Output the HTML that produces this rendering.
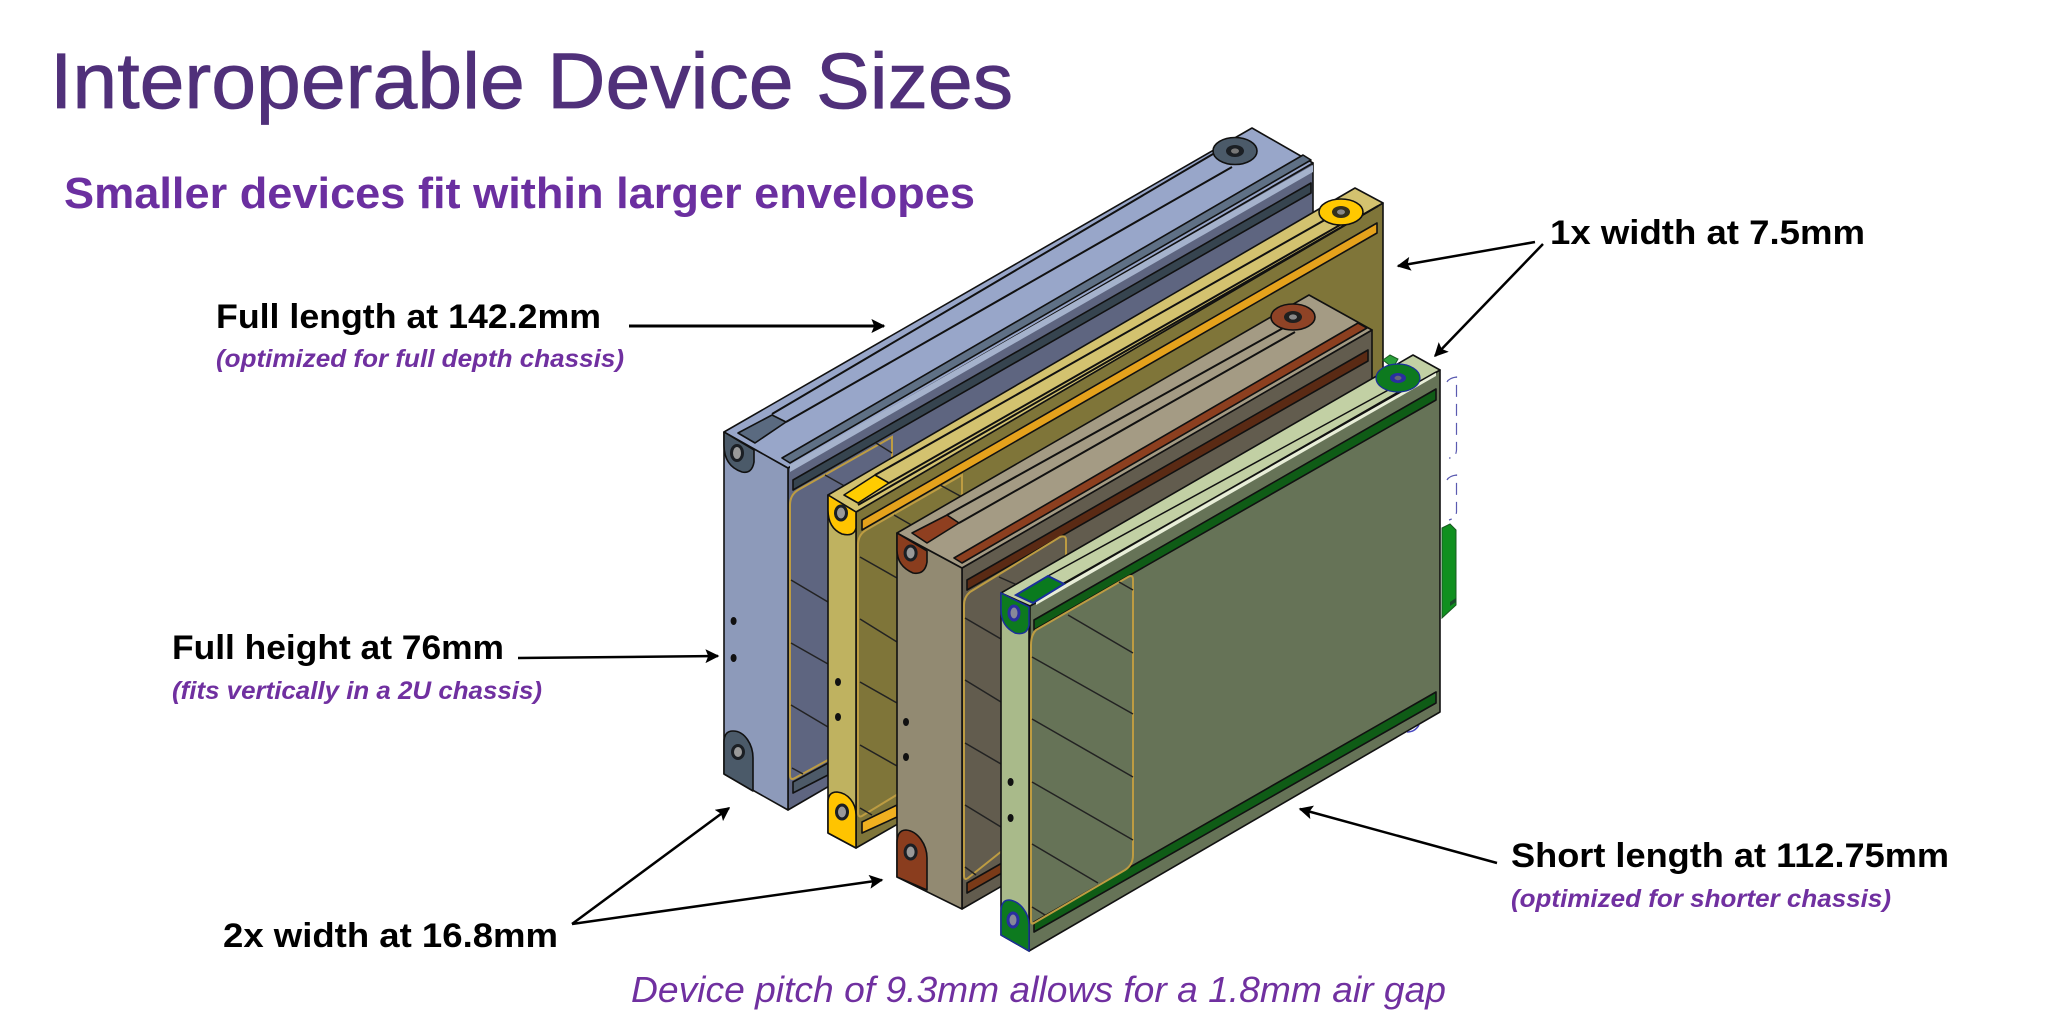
<!DOCTYPE html>
<html lang="en">
<head>
<meta charset="utf-8">
<title>Interoperable Device Sizes</title>
<style>
html,body{margin:0;padding:0;background:#fff;width:2048px;height:1024px;overflow:hidden}
svg{display:block}
text{font-family:"Liberation Sans",sans-serif}
.lab{font-weight:700;font-size:34px;fill:#000}
.sub{font-weight:700;font-style:italic;font-size:25px;fill:#7030a0}
.e{stroke:#111;stroke-width:1.6;stroke-linejoin:round}
.t{stroke:#111;stroke-width:2;fill:none}
.d{stroke:#222;stroke-width:1.5;fill:none}
.o{stroke:#bd9c42;stroke-width:2;fill:none}
</style>
</head>
<body>
<svg width="2048" height="1024" viewBox="0 0 2048 1024" xmlns="http://www.w3.org/2000/svg">
<defs>
<marker id="b" viewBox="0 0 10 10" refX="9" refY="5" markerWidth="14" markerHeight="14" orient="auto" markerUnits="userSpaceOnUse"><path d="M0,0L10,5L0,10L2,5z" fill="#000"/></marker>
</defs>
<rect width="2048" height="1024" fill="#fff"/>

<!-- BLUE DEVICE -->
<polygon class="e" points="788,468 1313,163 1313,505 788,810" fill="#5e6580"/>
<polygon class="e" points="793,480 1311,183 1311,193 793,490" fill="#36444f"/>
<path class="o" d="M790,505Q790,495 798,490L892,437V725L795,778Q790,781 790,775Z"/>
<path class="d" d="M791,580L828,602M791,643L828,664M791,705L828,727M792,768L803,774M825,475L848,488M876,443L892,453"/>
<polygon class="e" points="793,782 828,763 828,775 793,793" fill="#4d5a68"/>
<polygon class="e" points="724,432 788,468 788,810 724,774" fill="#8d9aba"/>
<polygon class="e" points="724,432 1252,128 1313,163 788,468" fill="#98a6c9"/>
<polygon points="790,465 1313,165 1313,172 790,472" fill="#a5b2cc"/>
<polygon class="e" points="782,458 790,463 1311,160 1303,155" fill="#5f7085"/>
<path class="t" d="M772,414L1213,154M786,422L1232,167"/>
<polygon class="e" points="738,433 772,415 786,422 755,443" fill="#5a6a80"/>
<ellipse class="e" cx="1235" cy="151" rx="22" ry="13.5" fill="#4b5a69"/>
<ellipse cx="1235" cy="151" rx="9" ry="6" fill="#1b1f24"/>
<ellipse cx="1235" cy="151" rx="4" ry="2.6" fill="#777"/>
<path class="e" d="M724,432L754,450V462Q752,474 742,472Q724,466 724,445Z" fill="#4b5a69"/>
<ellipse cx="737" cy="453" rx="7" ry="9" fill="#1b1f24"/><ellipse cx="737" cy="453" rx="4" ry="6" fill="#999"/>
<path class="e" d="M724,774V742Q724,731 733,731C745,731 753,745 753,758V791Z" fill="#4b5a69"/>
<ellipse cx="738" cy="752" rx="7" ry="8" fill="#1b1f24"/><ellipse cx="738" cy="752" rx="4" ry="5" fill="#999"/>
<ellipse cx="733.6" cy="621" rx="3" ry="4" fill="#111"/><ellipse cx="733.6" cy="658" rx="3" ry="4" fill="#111"/>

<!-- YELLOW DEVICE -->
<polygon class="e" points="856,512 1383,203 1383,545 856,848" fill="#7f7539"/>
<polygon class="e" points="862,520 1377,223 1377,233 862,530" fill="#e5a21c"/>
<path class="o" d="M858,545Q858,535 866,530L962,475V755L862,816Q858,818 858,812Z"/>
<path class="d" d="M860,557L897,578M860,619L897,642M860,682L897,703M860,745L897,766M860,808L872,815M894,515L920,530M940,485L962,497"/>
<polygon class="e" points="862,822 897,805 897,817 862,833" fill="#f0b020"/>
<polygon class="e" points="828,495 856,512 856,848 828,833" fill="#bfb260"/>
<polygon class="e" points="828,495 1355,188 1383,203 856,512" fill="#d3c26f"/>
<path class="t" d="M875,475L1330,217M889,483L1340,225M858,505L1378,206"/>
<polygon class="e" points="844,495 875,475 889,483 858,503" fill="#ffcc00"/>
<ellipse class="e" cx="1341" cy="212" rx="22" ry="13" fill="#ffc800"/>
<ellipse cx="1341" cy="212" rx="9" ry="6" fill="#33301c"/><ellipse cx="1341" cy="212" rx="4" ry="2.6" fill="#888"/>
<path class="e" d="M828,495L856,512V528Q854,537 842,534Q828,528 828,510Z" fill="#ffc400"/>
<ellipse cx="841" cy="513" rx="7" ry="8.5" fill="#1b1f24"/><ellipse cx="841" cy="513" rx="4" ry="5.5" fill="#999"/>
<path class="e" d="M828,833V802Q828,792 837,792C848,793 856,803 856,815V848Z" fill="#ffc400"/>
<ellipse cx="842" cy="812" rx="7" ry="8.5" fill="#1b1f24"/><ellipse cx="842" cy="812" rx="4" ry="5.5" fill="#999"/>
<ellipse cx="838" cy="682" rx="3" ry="4" fill="#111"/><ellipse cx="838" cy="717" rx="3" ry="4" fill="#111"/>

<!-- TAN DEVICE -->
<polygon class="e" points="962,568 1372,330 1372,673 962,909" fill="#625c4e"/>
<polygon class="e" points="967,580 1368,350 1368,361 967,590" fill="#5a2a14"/>
<path class="o" d="M964,605Q964,597 970,592L1060,537Q1066,535 1066,540V800L968,878Q964,881 964,875Z"/>
<path class="d" d="M965,618L1001,639M965,680L1001,702M965,743L1001,764M965,805L1001,827M965,867L976,875M999,577L1017,585"/>
<polygon class="e" points="967,883 1002,863 1002,873 967,893" fill="#7a3a18"/>
<polygon class="e" points="897,533 962,568 962,909 897,877" fill="#928a72"/>
<polygon class="e" points="897,533 1309,295 1372,330 962,568" fill="#a49b84"/>
<polygon class="e" points="954,558 962,563 1367,328 1358,323" fill="#8c3f1f"/>
<path class="t" d="M947,515L1285,327M959,523L1295,332"/>
<polygon class="e" points="912,533 947,515 959,523 927,543" fill="#8f3f20"/>
<ellipse class="e" cx="1293" cy="317" rx="22" ry="13" fill="#8f4326"/>
<ellipse cx="1293" cy="317" rx="9" ry="6" fill="#1f1f1f"/><ellipse cx="1293" cy="317" rx="4" ry="2.6" fill="#888"/>
<path class="e" d="M897,533L927,551V562Q925,575 913,573Q897,566 897,550Z" fill="#8a3d1e"/>
<ellipse cx="910.6" cy="553" rx="7" ry="8.5" fill="#1b1f24"/><ellipse cx="910.6" cy="553" rx="4" ry="5.5" fill="#999"/>
<path class="e" d="M897,877V843Q897,830 906,830C918,831 927,845 927,858V890Z" fill="#8a3d1e"/>
<ellipse cx="910.6" cy="852" rx="7" ry="8.5" fill="#1b1f24"/><ellipse cx="910.6" cy="852" rx="4" ry="5.5" fill="#999"/>
<ellipse cx="906" cy="722" rx="3" ry="4" fill="#111"/><ellipse cx="906" cy="757" rx="3" ry="4" fill="#111"/>

<!-- GREEN DEVICE -->
<polygon points="1383,360 1390,355 1398,359 1393,368" fill="#2aa03a" stroke="#185a20"/>
<polygon points="1442,528 1450,524 1456,530 1456,605 1442,618" fill="#10901f" stroke="#185a20"/>
<polygon points="1450,602 1456,598 1456,602 1450,606" fill="#1a4a2a"/>
<path d="M1407,732Q1415,732 1419,725" stroke="#4a4ac0" stroke-width="1.5" fill="none"/>
<polygon class="e" points="1030,606 1440,370 1440,712 1029,951" fill="#667357"/>
<polygon class="e" points="1034,620 1436,389 1436,400 1034,630" fill="#0f5c16"/>
<polygon class="e" points="1034,922 1436,692 1436,703 1034,932" fill="#0f5c16"/>
<path class="o" d="M1031,645Q1031,635 1036,630L1128,577Q1133,574 1133,580V855Q1133,865 1125,870L1034,923Q1031,925 1031,920Z"/>
<path class="d" d="M1032,657L1133,714M1032,719L1133,777M1032,782L1133,840M1032,844L1098,883M1032,907L1045,915M1068,615L1133,653M1119,582L1133,590"/>
<polygon class="e" points="1001,593 1029,606 1029,951 1001,935" fill="#a9ba8a"/>
<polygon class="e" points="1001,593 1413,355 1440,370 1030,606" fill="#c2d0a4"/>
<polygon points="1036,601 1436,372 1436,376 1036,605" fill="#e8eed8"/>
<path class="t" style="stroke-width:1.5" d="M1048,576L1392,388M1064,584L1402,390M1034,600L1436,372"/>
<polygon points="1016,595 1048,576 1064,584 1033,603" fill="#0a7a1e" stroke="#1a2f9a" stroke-width="2"/>
<ellipse cx="1398" cy="378" rx="22" ry="14" fill="#0d7a1f" stroke="#1a2f9a" stroke-width="1.2"/>
<ellipse cx="1398" cy="378" rx="8" ry="5" fill="#2a2ea0"/><ellipse cx="1398" cy="378" rx="3.5" ry="2.2" fill="#667"/>
<path d="M1001,593L1029,607V625Q1027,636 1015,633Q1001,626 1001,610Z" fill="#0d7a1f" stroke="#1a2f9a" stroke-width="1.5"/>
<ellipse cx="1014" cy="613" rx="6.5" ry="8.5" fill="#2a2ea0"/><ellipse cx="1014" cy="613" rx="3.5" ry="5.5" fill="#889"/>
<path d="M1001,935V912Q1001,900 1009,900C1020,901 1029,913 1029,925V951Z" fill="#0d7a1f" stroke="#1a2f9a" stroke-width="1.5"/>
<ellipse cx="1013" cy="920" rx="6.5" ry="8.5" fill="#2a2ea0"/><ellipse cx="1013" cy="920" rx="3.5" ry="5.5" fill="#889"/>
<ellipse cx="1010.6" cy="782" rx="3" ry="4" fill="#111"/><ellipse cx="1010.6" cy="818" rx="3" ry="4" fill="#111"/>
<path d="M1447,382Q1449,378 1456.5,377V450Q1456,458 1449,458M1447,480Q1449,476 1456.5,475V512Q1456,518 1449,520" fill="none" stroke="#5a5ab0" stroke-width="1.2" stroke-dasharray="12 7"/>

<!-- ARROWS -->
<g fill="none" stroke="#000">
<line x1="629" y1="326" x2="884" y2="326" stroke-width="3" marker-end="url(#b)"/>
<line x1="518" y1="658" x2="718" y2="656" stroke-width="2.5" marker-end="url(#b)"/>
<line x1="572" y1="924" x2="729" y2="808" stroke-width="2.5" marker-end="url(#b)"/>
<line x1="572" y1="924" x2="882" y2="880" stroke-width="2.5" marker-end="url(#b)"/>
<line x1="1535" y1="242" x2="1398" y2="266" stroke-width="2.5" marker-end="url(#b)"/>
<line x1="1543" y1="244" x2="1435" y2="356" stroke-width="2.5" marker-end="url(#b)"/>
<line x1="1497" y1="863" x2="1300" y2="809" stroke-width="2.5" marker-end="url(#b)"/>
</g>

<!-- TEXT -->
<text x="50" y="108" font-size="79" fill="#50307a" stroke="#50307a" stroke-width="0.8" textLength="963" lengthAdjust="spacingAndGlyphs">Interoperable Device Sizes</text>
<text x="64" y="208" font-size="44" font-weight="700" fill="#6b2fa0" textLength="911" lengthAdjust="spacingAndGlyphs">Smaller devices fit within larger envelopes</text>
<text class="lab" x="216" y="328" textLength="385" lengthAdjust="spacingAndGlyphs">Full length at 142.2mm</text>
<text class="sub" x="216" y="367" textLength="408" lengthAdjust="spacingAndGlyphs">(optimized for full depth chassis)</text>
<text class="lab" x="172" y="659" textLength="332" lengthAdjust="spacingAndGlyphs">Full height at 76mm</text>
<text class="sub" x="172" y="699" textLength="370" lengthAdjust="spacingAndGlyphs">(fits vertically in a 2U chassis)</text>
<text class="lab" x="223" y="947" textLength="335" lengthAdjust="spacingAndGlyphs">2x width at 16.8mm</text>
<text x="631" y="1002" font-size="36" font-style="italic" fill="#7030a0" textLength="815" lengthAdjust="spacingAndGlyphs">Device pitch of 9.3mm allows for a 1.8mm air gap</text>
<text class="lab" x="1550" y="244" textLength="315" lengthAdjust="spacingAndGlyphs">1x width at 7.5mm</text>
<text class="lab" x="1511" y="867" textLength="438" lengthAdjust="spacingAndGlyphs">Short length at 112.75mm</text>
<text class="sub" x="1511" y="907" textLength="380" lengthAdjust="spacingAndGlyphs">(optimized for shorter chassis)</text>
</svg>
</body>
</html>
